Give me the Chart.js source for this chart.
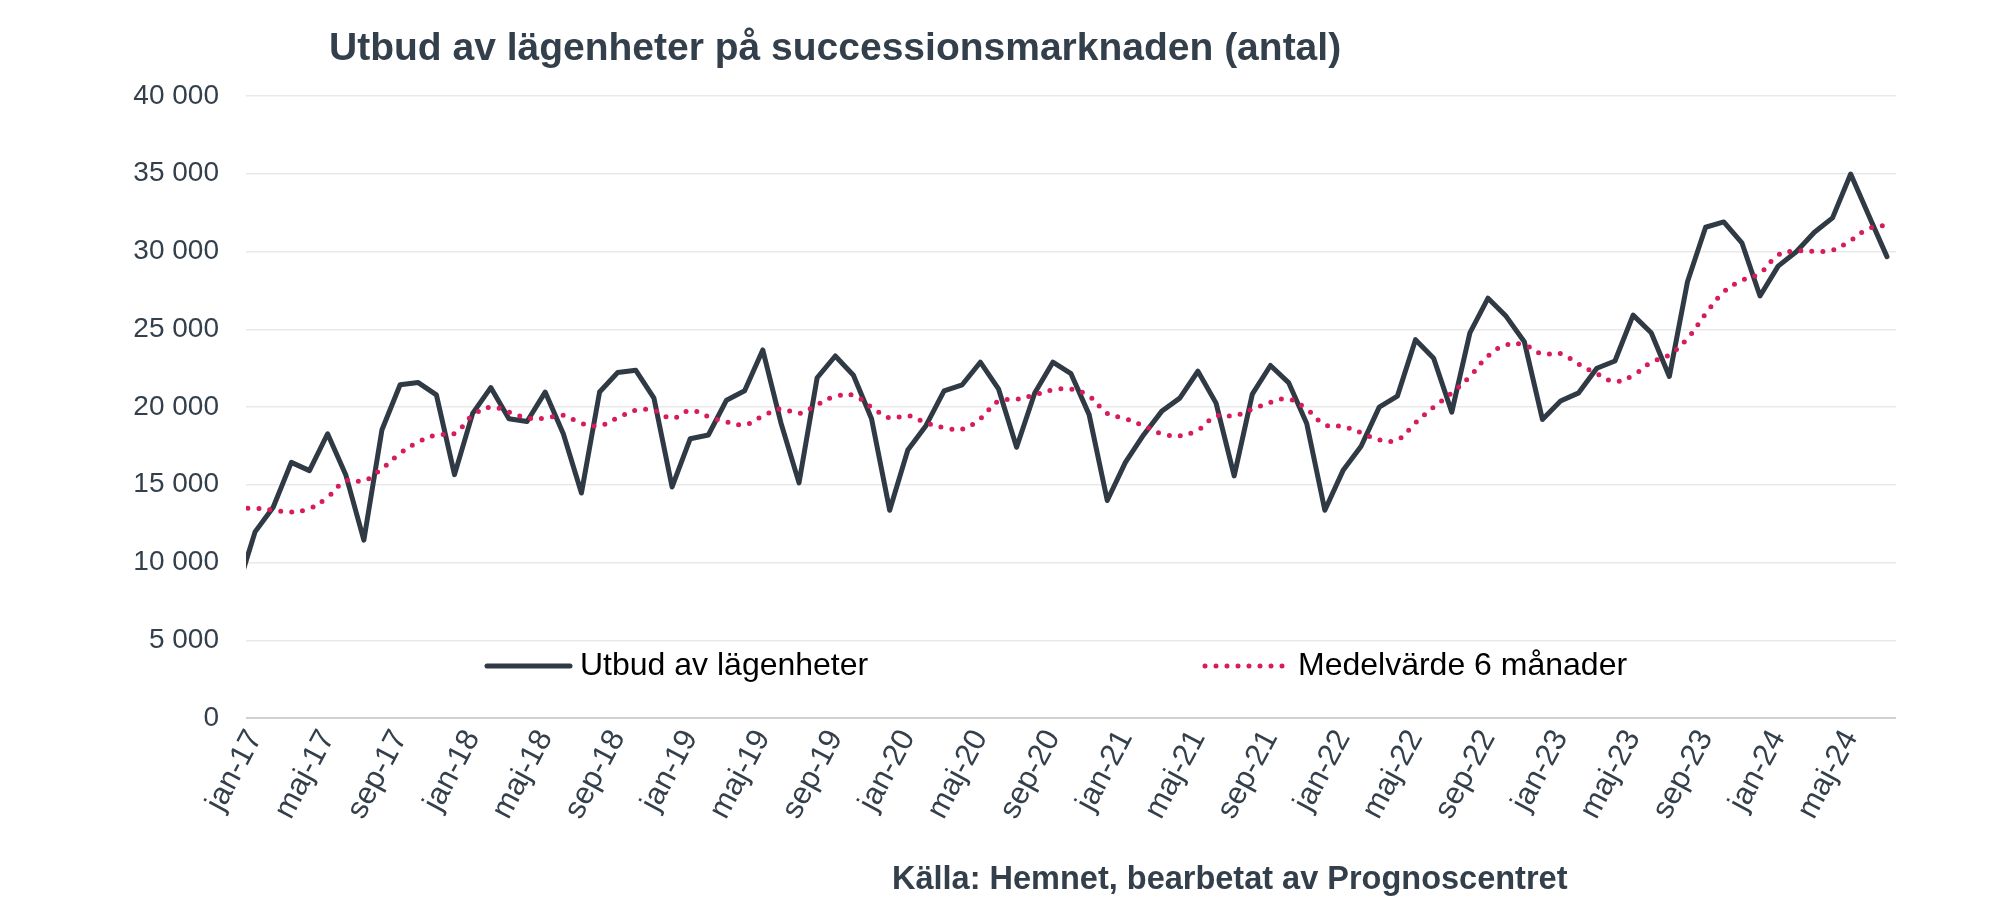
<!DOCTYPE html>
<html>
<head>
<meta charset="utf-8">
<script src="https://cdn.jsdelivr.net/npm/chart.js@4"></script>
<style>
  html, body { margin: 0; padding: 0; background: #fff; }
  #wrap { width: 1999px; height: 919px; position: relative; }
</style>
</head>
<body>
<div id="wrap"><canvas id="chart"></canvas></div>
<script>
// ---------- Data ----------
// index 0 = dec-16 (only its segment up to the left edge is visible), index 1 = jan-17 ... index 91 = jul-24
const monthNames = ['jan', 'feb', 'mar', 'apr', 'maj', 'jun', 'jul', 'aug', 'sep', 'okt', 'nov', 'dec'];
const years = ['17', '18', '19', '20', '21', '22', '23', '24'];

const supply = [
  8200,
  11970, 13550, 16440, 15910, 18280, 15650, 11440, 18540, 21430, 21570, 20780, 15650,
  19590, 21250, 19250, 19070, 20960, 18280, 14470, 20960, 22220, 22360, 20570, 14860,
  17960, 18200, 20440, 21040, 23670, 18990, 15120, 21880, 23280, 22040, 19250, 13360,
  17230, 18800, 21040, 21430, 22880, 21170, 17410, 20900, 22880, 22140, 19510, 13990,
  16440, 18200, 19720, 20570, 22300, 20250, 15570, 20830, 22670, 21570, 18940, 13360,
  15910, 17480, 19990, 20700, 24330, 23140, 19670, 24770, 27000, 25830, 24200, 19200,
  20380, 20910, 22490, 22960, 25910, 24770, 21960, 28060, 31560, 31900, 30560, 27140,
  29060, 29980, 31240, 32160, 34980, 32320, 29670
];

const avg6 = [
  13450,
  13490, 13360, 13250, 13470, 14200, 15250, 15250, 16040, 17020, 17750, 18200, 18300,
  19460, 19990, 19670, 19300, 19280, 19460, 18940, 18800, 19300, 19800, 19780, 19280,
  19780, 19380, 19040, 18860, 19410, 19880, 19590, 20150, 20680, 20750, 19990, 19300,
  19440, 18990, 18670, 18570, 19250, 20380, 20490, 20780, 21090, 21150, 20700, 19590,
  19250, 18800, 18280, 18150, 18520, 19410, 19440, 19860, 20300, 20510, 19860, 18860,
  18750, 18350, 17880, 17880, 18990, 19990, 20910, 21960, 23280, 23990, 23990, 23410,
  23430, 22750, 22140, 21640, 22040, 22880, 23360, 24410, 25990, 27400, 28140, 28610,
  29770, 30030, 30010, 30090, 30720, 31480, 31690
];

const seriesNames = ['Utbud av lägenheter', 'Medelvärde 6 månader'];
const yTicks = [0, 5000, 10000, 15000, 20000, 25000, 30000, 35000, 40000];

const chartTitle = 'Utbud av lägenheter på successionsmarknaden (antal)';
const sourceText = 'Källa: Hemnet, bearbetat av Prognoscentret';

// month labels: dec-16, jan-17 ... jul-24
const labels = ['dec-16'];
for (const y of years) for (const m of monthNames) labels.push(m + '-' + y);
labels.length = supply.length;

// x ticks every 4th month starting at jan-17
const xTickIdx = labels.map((_, i) => i).filter(i => i >= 1 && (i - 1) % 4 === 0);

// ---------- Style ----------
const FONT = '"Liberation Sans", Arial, sans-serif';
const TEXT = '#333f4b';
const DARK = '#2f3a45';
const PINK = '#d81b5b';

const fmtSpace = (n) => String(n).replace(/\B(?=(\d{3})+(?!\d))/g, ' ');

// ---------- Plugins: title, source, in-plot legend ----------
const annotations = {
  id: 'annotations',
  afterDraw(chart) {
    const ctx = chart.ctx;
    ctx.save();
    ctx.fillStyle = TEXT;
    ctx.textBaseline = 'middle';
    ctx.textAlign = 'left';
    ctx.font = 'bold 39px ' + FONT;
    ctx.fillText(chartTitle, 329, 49);
    ctx.font = 'bold 32.5px ' + FONT;
    ctx.fillText(sourceText, 892, 880);

    // legend inside plot area
    const legendPos = [{ x: 487, y: 666 }, { x: 1205, y: 666 }];
    chart.data.datasets.forEach((ds, i) => {
      const p = legendPos[i];
      ctx.beginPath();
      ctx.setLineDash(ds.borderDash || []);
      ctx.lineCap = ds.borderCapStyle || 'butt';
      ctx.strokeStyle = ds.borderColor;
      ctx.lineWidth = ds.borderWidth;
      ctx.moveTo(p.x, p.y);
      ctx.lineTo(p.x + 83, p.y);
      ctx.stroke();
      ctx.setLineDash([]);
      ctx.fillStyle = '#000';
      ctx.font = '32px ' + FONT;
      ctx.fillText(ds.label, p.x + 93, p.y);
    });
    ctx.restore();
  }
};

// ---------- Chart ----------
new Chart(document.getElementById('chart'), {
  type: 'line',
  data: {
    datasets: [
      {
        label: seriesNames[0],
        data: supply.map((v, i) => ({ x: i, y: v })),
        borderColor: DARK,
        borderWidth: 5,
        borderJoinStyle: 'round',
        borderCapStyle: 'round',
        pointRadius: 0,
        tension: 0,
        clip: 0,
        order: 1
      },
      {
        label: seriesNames[1],
        data: avg6.map((v, i) => ({ x: i, y: v })),
        borderColor: PINK,
        borderWidth: 5,
        borderDash: [0, 11],
        borderCapStyle: 'round',
        pointRadius: 0,
        tension: 0.4,
        clip: 0,
        order: 0
      }
    ]
  },
  options: {
    responsive: true,
    maintainAspectRatio: false,
    animation: false,
    devicePixelRatio: 1,
    layout: { padding: { top: 96, right: 103, left: 0, bottom: 0 } },
    plugins: {
      legend: { display: false },
      title: { display: false },
      tooltip: { enabled: false }
    },
    scales: {
      x: {
        type: 'linear',
        min: 0.5,
        max: labels.length - 0.5,
        afterBuildTicks: (scale) => { scale.ticks = xTickIdx.map(v => ({ value: v })); },
        afterFit: (scale) => { scale.height = 919 - 718; },
        grid: { display: false, drawTicks: false },
        border: { display: false },
        ticks: {
          autoSkip: false,
          minRotation: 62,
          maxRotation: 62,
          padding: 6,
          color: TEXT,
          font: { family: FONT, size: 31 },
          callback: (v) => labels[v]
        }
      },
      y: {
        min: 0,
        max: 40000,
        afterBuildTicks: (scale) => { scale.ticks = yTicks.map(v => ({ value: v })); },
        afterFit: (scale) => { scale.width = 246; },
        grid: {
          drawTicks: false,
          lineWidth: (c) => c.tick && c.tick.value === 0 ? 2 : 1.5,
          color: (c) => c.tick && c.tick.value === 0 ? '#d0d0d0' : '#e9e9e9'
        },
        border: { display: false },
        ticks: {
          padding: 27,
          color: TEXT,
          font: { family: FONT, size: 28 },
          callback: (v) => fmtSpace(v)
        }
      }
    }
  },
  plugins: [annotations]
});
</script>
</body>
</html>
